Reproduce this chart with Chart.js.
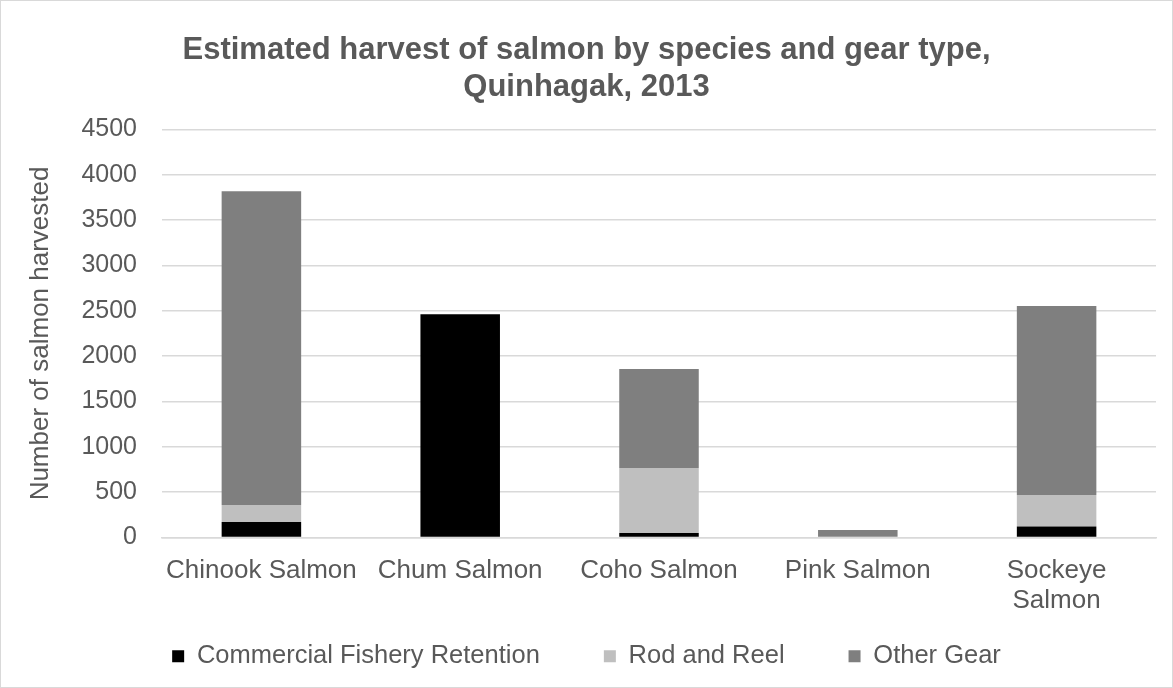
<!DOCTYPE html>
<html lang="en">
<head>
    <meta charset="UTF-8">
    <title>Quinhagak salmon harvest 2013</title>
    <script src="https://cdn.jsdelivr.net/npm/chart.js"></script>
    <style>
      body { margin: 0; background: #fff; }
      .chart-box { width: 1173px; height: 688px; box-sizing: border-box; border: 1px solid #d9d9d9; }
    </style>
</head>
<body>
    <div class="chart-box">
      <canvas id="harvest-chart" width="1171" height="686"></canvas>
    </div>

    <script type="text/javascript" charset="utf-8">
      // values
      const species = ["Chinook Salmon", "Chum Salmon", "Coho Salmon", "Pink Salmon", ["Sockeye", "Salmon"]];
      const commercialRetention = [172, 2462, 50, 0, 120];
      const rodAndReel = [185, 0, 715, 0, 350];
      const otherGear = [3460, 0, 1092, 82, 2082];
      const yTicks = [0, 500, 1000, 1500, 2000, 2500, 3000, 3500, 4000, 4500];

      const grey = "#595959";
      const font = "'Liberation Sans', Arial, sans-serif";

      // wide legend padding also makes the legend box tall, so put the legend back where Excel had it
      const legendNudge = {
        id: 'legendNudge',
        afterLayout(chart) {
          const lg = chart.legend;
          const top = chart.scales.x.top + 42;
          lg.bottom = top + lg.height;
          lg.top = top;
        }
      };

      const ctx = document.getElementById("harvest-chart").getContext('2d');
      const myChart = new Chart(ctx, {
          type: 'bar',
          data: {
              labels: species,
              datasets: [
                { label: 'Commercial Fishery Retention', data: commercialRetention, backgroundColor: '#000000' },
                { label: 'Rod and Reel', data: rodAndReel, backgroundColor: '#bfbfbf' },
                { label: 'Other Gear', data: otherGear, backgroundColor: '#7f7f7f' }
              ]
          },
          plugins: [legendNudge],
          options: {
            responsive: false,
            animation: false,
            layout: { padding: { left: 16, right: 16, top: 0, bottom: -30 } },
            datasets: {
              bar: { barPercentage: 0.4, categoryPercentage: 1.0, borderWidth: 0 }
            },
            plugins: {
              title: {
                display: true,
                text: ["Estimated harvest of salmon by species and gear type,", "Quinhagak, 2013"],
                color: grey,
                font: { family: font, size: 31, weight: 'bold', lineHeight: 1.2 },
                padding: { top: 31, bottom: 23 }
              },
              legend: {
                position: 'bottom',
                labels: {
                  color: grey,
                  font: { family: font, size: 25.5 },
                  boxWidth: 12,
                  boxHeight: 12,
                  padding: 64
                }
              },
              tooltip: { enabled: false }
            },
            scales: {
              x: {
                stacked: true,
                grid: { display: false, drawTicks: false },
                border: { display: true, color: '#d9d9d9', width: 1.5 },
                ticks: { color: grey, font: { family: font, size: 26, lineHeight: 1.15 }, padding: 18, maxRotation: 0, autoSkip: false },
                afterFit: function(scale) { scale.height = 80; }
              },
              y: {
                stacked: true,
                min: 0,
                max: 4500,
                afterBuildTicks: function(scale) { scale.ticks = yTicks.map(v => ({ value: v })); },
                grid: { color: '#d9d9d9', lineWidth: 1.5, drawTicks: false },
                border: { display: false },
                ticks: {
                  color: grey,
                  font: { family: font, size: 25 },
                  padding: 25,
                  callback: function(v) { return String(v); }
                },
                title: {
                  display: true,
                  text: 'Number of salmon harvested',
                  color: grey,
                  font: { family: font, size: 26 },
                  padding: { top: 8, bottom: 10 }
                },
                afterFit: function(scale) { scale.width = 145; }
              }
            }
          }
      });
    </script>
</body>
</html>
